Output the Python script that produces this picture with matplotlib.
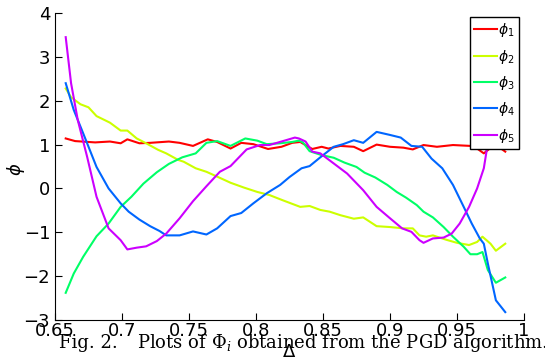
import matplotlib
matplotlib.use("Agg")
import matplotlib.pyplot as plt

plt.rcParams['font.family'] = ['DejaVu Sans']
plt.rcParams['mathtext.fontset'] = 'dejavusans'

# phi_1 .. phi_5 (x = Delta)
x1 = [0.658, 0.665, 0.680, 0.691, 0.699, 0.704, 0.713, 0.721, 0.735, 0.743, 0.753,
      0.764, 0.771, 0.781, 0.789, 0.798, 0.809, 0.819, 0.827, 0.833, 0.842, 0.849,
      0.854, 0.863, 0.873, 0.880, 0.890, 0.900, 0.910, 0.917, 0.925, 0.935, 0.947,
      0.960, 0.965, 0.970, 0.976, 0.981, 0.986]
phi1 = [1.14, 1.08, 1.05, 1.07, 1.03, 1.12, 1.03, 1.04, 1.07, 1.04, 0.97,
        1.12, 1.06, 0.91, 1.04, 1.01, 0.90, 0.95, 1.04, 1.06, 0.90, 0.95,
        0.91, 0.97, 0.95, 0.85, 1.00, 0.95, 0.93, 0.89, 0.99, 0.95, 0.99,
        0.97, 0.91, 0.80, 0.95, 0.95, 0.84]

x2 = [0.658, 0.662, 0.669, 0.675, 0.681, 0.691, 0.699, 0.704, 0.711, 0.718, 0.727,
      0.733, 0.742, 0.746, 0.755, 0.763, 0.771, 0.781, 0.791, 0.801, 0.810, 0.820,
      0.833, 0.840, 0.848, 0.855, 0.863, 0.873, 0.880, 0.890, 0.900, 0.910, 0.917,
      0.922, 0.927, 0.932, 0.942, 0.950, 0.959, 0.965, 0.969, 0.975, 0.979, 0.986]
phi2 = [2.28, 2.08, 1.92, 1.85, 1.65, 1.50, 1.32, 1.32, 1.14, 1.03, 0.88,
        0.80, 0.65, 0.61, 0.46, 0.38, 0.27, 0.13, 0.02, -0.08, -0.15, -0.27,
        -0.42, -0.40, -0.49, -0.53, -0.61, -0.69, -0.66, -0.86, -0.88, -0.91, -0.91,
        -1.07, -1.10, -1.07, -1.17, -1.24, -1.29, -1.22, -1.10, -1.26, -1.42, -1.26]

x3 = [0.658, 0.664, 0.671, 0.681, 0.690, 0.699, 0.707, 0.716, 0.726, 0.735, 0.745,
      0.755, 0.763, 0.771, 0.781, 0.792, 0.801, 0.808, 0.818, 0.827, 0.832, 0.835,
      0.840, 0.849, 0.858, 0.866, 0.875, 0.881, 0.889, 0.898, 0.905, 0.912, 0.920,
      0.925, 0.932, 0.940, 0.947, 0.955, 0.960, 0.965, 0.969, 0.973, 0.979, 0.986]
phi3 = [-2.38, -1.94, -1.56, -1.09, -0.80, -0.42, -0.19, 0.11, 0.37, 0.56, 0.71,
        0.80, 1.04, 1.08, 0.97, 1.14, 1.09, 1.01, 1.03, 1.06, 1.09, 1.05,
        0.85, 0.76, 0.70, 0.59, 0.49, 0.36, 0.25, 0.08, -0.08, -0.21, -0.38,
        -0.53, -0.66, -0.88, -1.10, -1.33, -1.50, -1.50, -1.45, -1.86, -2.15, -2.03]

x4 = [0.658, 0.664, 0.671, 0.681, 0.690, 0.699, 0.705, 0.713, 0.721, 0.728, 0.733,
      0.743, 0.753, 0.763, 0.771, 0.781, 0.789, 0.798, 0.808, 0.818, 0.825, 0.834,
      0.840, 0.848, 0.858, 0.865, 0.873, 0.880, 0.890, 0.900, 0.908, 0.916, 0.924,
      0.931, 0.939, 0.947, 0.955, 0.961, 0.967, 0.970, 0.973, 0.979, 0.986]
phi4 = [2.40, 1.79, 1.26, 0.49, 0.00, -0.34, -0.53, -0.71, -0.86, -0.97, -1.07,
        -1.07, -0.98, -1.05, -0.91, -0.63, -0.56, -0.34, -0.11, 0.08, 0.26, 0.46,
        0.51, 0.71, 0.95, 1.01, 1.10, 1.04, 1.29, 1.22, 1.16, 0.97, 0.95,
        0.68, 0.46, 0.08, -0.42, -0.80, -1.14, -1.26, -1.71, -2.55, -2.82]

x5 = [0.658, 0.662, 0.667, 0.674, 0.681, 0.690, 0.699, 0.704, 0.711, 0.718, 0.726,
      0.733, 0.743, 0.753, 0.763, 0.773, 0.781, 0.793, 0.803, 0.810, 0.819, 0.829,
      0.832, 0.837, 0.842, 0.848, 0.858, 0.868, 0.880, 0.890, 0.900, 0.909, 0.916,
      0.922, 0.925, 0.932, 0.940, 0.946, 0.952, 0.959, 0.965, 0.970, 0.973, 0.980, 0.986]
phi5 = [3.45, 2.40, 1.56, 0.72, -0.19, -0.91, -1.18, -1.39, -1.35, -1.32, -1.20,
        -1.03, -0.68, -0.29, 0.05, 0.38, 0.51, 0.89, 0.99, 0.99, 1.07, 1.16,
        1.14, 1.07, 0.84, 0.80, 0.57, 0.34, -0.04, -0.42, -0.68, -0.91, -0.99,
        -1.18, -1.24, -1.14, -1.12, -1.03, -0.80, -0.42, 0.00, 0.46, 1.03, 1.50, 1.90]

labels = [r'$\phi_1$', r'$\phi_2$', r'$\phi_3$', r'$\phi_4$', r'$\phi_5$']
colors = ['#ff0000', '#ccff00', '#00ff66', '#0066ff', '#cc00ff']
xticks = [0.65, 0.7, 0.75, 0.8, 0.85, 0.9, 0.95, 1.0]
xticklabels = ['0.65', '0.7', '0.75', '0.8', '0.85', '0.9', '0.95', '1']
yticks = [-3, -2, -1, 0, 1, 2, 3, 4]
yticklabels = ['\u22123', '\u22122', '\u22121', '0', '1', '2', '3', '4']

fig = plt.figure(figsize=(5.45, 3.58), dpi=100)
ax = fig.add_axes([0.1009, 0.1061, 0.8606, 0.8575])

for xs, ys, lab, c in zip([x1, x2, x3, x4, x5], [phi1, phi2, phi3, phi4, phi5], labels, colors):
    ax.plot(xs, ys, color=c, lw=1.5, label=lab)

ax.set_xlim(0.65, 1.0)
ax.set_ylim(-3, 4)
ax.set_xticks(xticks)
ax.set_xticklabels(xticklabels)
ax.set_yticks(yticks)
ax.set_yticklabels(yticklabels)
ax.tick_params(direction='in', length=5, width=0.8, labelsize=13)
ax.tick_params(axis='x', pad=1.5)
ax.tick_params(axis='y', pad=3.5)
ax.spines['top'].set_visible(False)
ax.spines['right'].set_visible(False)
for s in ['left', 'bottom']:
    ax.spines[s].set_linewidth(0.8)

ax.set_ylabel(r'$\phi$', fontsize=13, va='center')
ax.yaxis.set_label_coords(-0.083, 0.49)
ax.set_xlabel('\u0394', fontsize=13, va='center')
ax.xaxis.set_label_coords(0.5, -0.104)

leg = ax.legend(loc='upper right', bbox_to_anchor=(0.989, 0.987), borderaxespad=0,
                fontsize=10, fancybox=False, framealpha=1, edgecolor='black',
                handlelength=1.6, handletextpad=0.1, borderpad=0.3, labelspacing=0.6)
leg.get_frame().set_linewidth(1.0)

# caption printed under the figure
fig.text(59 / 545, 1 - 348 / 358, 'Fig. 2.', family='DejaVu Serif', fontsize=13,
         va='baseline', ha='left')
fig.text(137 / 545, 1 - 348 / 358, r'Plots of $\Phi_i$ obtained from the PGD algorithm.',
         family='DejaVu Serif', fontsize=13, va='baseline', ha='left',
         math_fontfamily='dejavuserif')

fig.savefig('out.png', dpi=100)
